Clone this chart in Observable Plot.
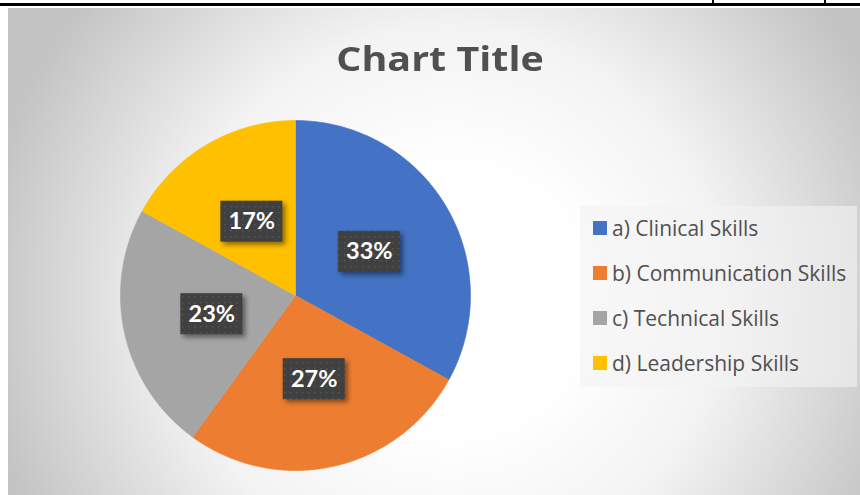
<!DOCTYPE html>
<html><head><meta charset="utf-8">
<script src="https://cdn.jsdelivr.net/npm/d3@7"></script>
<script src="https://cdn.jsdelivr.net/npm/@observablehq/plot@0.6"></script>
<style>
html,body{margin:0;padding:0;background:#fff;}
#wrap{position:relative;width:860px;height:495px;overflow:hidden;font-family:Lato,sans-serif;}
#area{position:absolute;left:8px;top:8px;width:880px;height:500px;
  background:radial-gradient(circle 470px at 442px 292px,#ffffff 0%,#ffffff 28%,#f3f3f3 58%,#c4c4c4 100%);}
#topline{position:absolute;left:0;top:3px;width:860px;height:2.5px;background:#000;}
.vt{position:absolute;top:0;width:1.5px;height:4px;background:#000;}
#title{position:absolute;left:0;width:880px;top:36px;height:44px;line-height:44px;text-align:center;
  font-family:"Open Sans",sans-serif;font-weight:bold;font-size:34px;color:#505050;
  transform:scaleX(1.16);transform-origin:440px 50%;}
#legendbox{position:absolute;left:580px;top:206px;width:277px;height:181px;background:rgba(244,244,244,0.6);}
#legend{position:absolute;left:593px;top:205.5px;width:265px;}
#chart{position:absolute;left:0;top:0;}
.leg-swatch{height:45px;padding-bottom:0 !important;}
.leg-swatch > svg{margin-right:5px !important;}
</style>
</head><body>
<div id="wrap">
  <div id="area"></div>
  <div id="topline"></div>
  <div class="vt" style="left:712px"></div>
  <div class="vt" style="left:824px"></div>
  <div id="title"></div>
  <div id="legendbox"></div>
  <div id="chart"></div>
  <div id="legend"></div>
</div>
<script>
const titleText = "Chart Title";
const categories = ["a) Clinical Skills", "b) Communication Skills", "c) Technical Skills", "d) Leadership Skills"];
const values = [33, 27, 23, 17];
const colors = ["#4472C4", "#ED7D31", "#A5A5A5", "#FFC000"];

document.getElementById("title").textContent = titleText;

const arcs = d3.pie().sort(null).value(d => d)(values);
const slicePts = arcs.flatMap((p, i) => {
  const pts = [{cat: categories[i], x: 0, y: 0}];
  const n = 120;
  for (let k = 0; k <= n; k++) {
    const a = p.startAngle + (p.endAngle - p.startAngle) * k / n;
    pts.push({cat: categories[i], x: Math.sin(a), y: Math.cos(a)});
  }
  pts.push({cat: categories[i], x: 0, y: 0});
  return pts;
});
const labelR = 0.49;
const labelData = arcs.map((p, i) => {
  const m = (p.startAngle + p.endAngle) / 2;
  return {cat: categories[i], label: values[i] + "%", x: labelR * Math.sin(m), y: labelR * Math.cos(m)};
});

const R = 175;
const svg = Plot.plot({
  width: 860, height: 495,
  margin: 0,
  x: {domain: [-295 / R, 565 / R], axis: null},
  y: {domain: [-200 / R, 295 / R], axis: null},
  color: {domain: categories, range: colors},
  style: {background: "transparent", overflow: "visible"},
  marks: [
    Plot.line(slicePts, {x: "x", y: "y", z: "cat", fill: "cat", stroke: "cat", strokeWidth: 0.6}),
    Plot.rect(labelData, {x1: "x", x2: "x", y1: "y", y2: "y",
      insetLeft: -31, insetRight: -31, insetTop: -20.5, insetBottom: -20.5, fill: "url(#dots)"}),
    Plot.text(labelData, {x: "x", y: "y", text: "label", fill: "white", fontSize: 23.5, fontWeight: "bold", fontFamily: "Lato"})
  ]
});
d3.select(svg).insert("defs", ":first-child").html(
  '<pattern id="dots" width="6" height="6" patternUnits="userSpaceOnUse">' +
  '<rect width="6" height="6" fill="#404040"/><rect x="2" y="2" width="1.4" height="1.4" fill="#575757"/></pattern>');
d3.select(svg).selectAll('g[aria-label="rect"]').style("filter", "drop-shadow(3px 3px 2.5px rgba(0,0,0,0.45))");
document.getElementById("chart").appendChild(svg);

const leg = Plot.legend({
  color: {domain: categories, range: colors},
  columns: 1,
  swatchSize: 14,
  className: "leg",
  style: {fontSize: "21px", fontFamily: "Open Sans", color: "#505050", margin: 0}
});
document.getElementById("legend").appendChild(leg);
</script>
</body></html>
